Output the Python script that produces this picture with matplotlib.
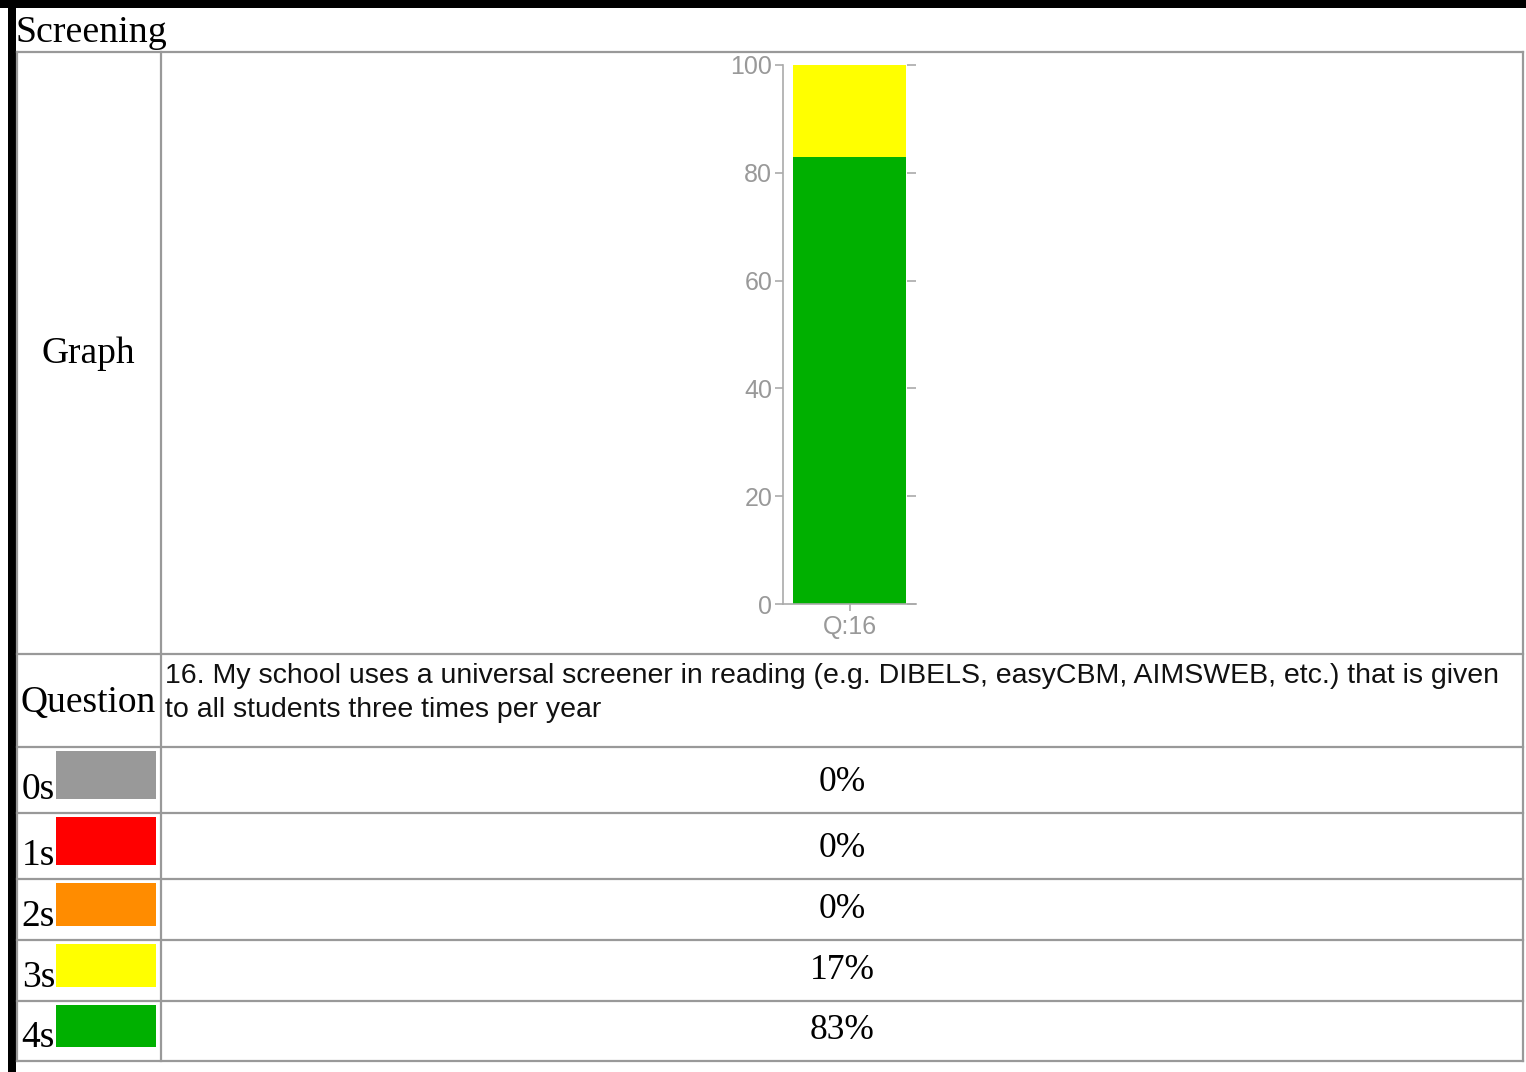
import matplotlib
matplotlib.use("Agg")
import matplotlib.pyplot as plt
from matplotlib.patches import Rectangle

# ---- data ----
title = "Screening"
question_lines = ["16. My school uses a universal screener in reading (e.g. DIBELS, easyCBM, AIMSWEB, etc.) that is given",
                  "to all students three times per year"]
qlabel = "Q:16"
levels = ["0s", "1s", "2s", "3s", "4s"]
colors = ["#999999", "#ff0000", "#ff8c00", "#ffff00", "#00b000"]
percent = [0, 0, 0, 17, 83]
yticks = [0, 20, 40, 60, 80, 100]

SERIF = "Liberation Serif"
SANS = "Liberation Sans"

W, H = 1526, 1072
fig = plt.figure(figsize=(W / 100, H / 100), dpi=100)

# background axes in pixel coords for the table
bg = fig.add_axes([0, 0, 1, 1])
bg.set_xlim(0, W)
bg.set_ylim(H, 0)
bg.axis("off")

# black frame top + left
bg.add_patch(Rectangle((0, 0), W, 8, color="black", lw=0))
bg.add_patch(Rectangle((8, 0), 8, H, color="black", lw=0))

line_c = "#999999"
rows = [52, 654, 747, 813, 879, 940, 1001, 1061]
x0, xm, x1 = 17, 161, 1523
for y in rows:
    bg.plot([x0, x1], [y, y], color=line_c, lw=1.6, solid_capstyle="projecting")
for x in (x0, xm, x1):
    bg.plot([x, x], [rows[0], rows[-1]], color=line_c, lw=1.6, solid_capstyle="projecting")

bg.text(16, 42, title, family=SERIF, fontsize=27.3, va="baseline", ha="left")
bg.text(88.5, 363, "Graph", family=SERIF, fontsize=27, va="baseline", ha="center")
bg.text(88.5, 712, "Question", family=SERIF, fontsize=27, va="baseline", ha="center")
for i, ln in enumerate(question_lines):
    bg.text(165, 683 + 34 * i, ln, family=SANS, fontsize=20.5, va="baseline",
            ha="left", color="#111111")

# legend rows + percentages
for i, (lab, c, p) in enumerate(zip(levels, colors, percent)):
    top, bot = rows[i + 2], rows[i + 3]
    bg.add_patch(Rectangle((56, top + 4), 100, (bot - 14) - (top + 4), color=c, lw=0))
    bg.text(55, bot - 14, lab, family=SERIF, fontsize=27, va="baseline", ha="right")
    bg.text(842, bot - 22, "%d%%" % p, family=SERIF, fontsize=25.5, va="baseline", ha="center")

# ---- stacked bar chart ----
ax = fig.add_axes([783 / W, 1 - 604 / H, 133 / W, 539 / H])
b = 0
for c, p in zip(colors[::-1], percent[::-1]):
    ax.bar(0, p, width=0.85, bottom=b, color=c, lw=0)
    b += p
ax.set_xlim(-0.5, 0.5)
ax.set_ylim(0, 100)
ax.set_yticks(yticks)
ax.set_xticks([0])
ax.set_xticklabels([qlabel])
for s in ("top", "right"):
    ax.spines[s].set_visible(False)
for s in ("left", "bottom"):
    ax.spines[s].set_color("#aaaaaa")
    ax.spines[s].set_linewidth(1.2)
ax.tick_params(axis="y", length=5.8, width=1.2, color="#aaaaaa", labelcolor="#999999",
               labelsize=18, pad=2)
ax.tick_params(axis="x", length=5, width=1.2, color="#aaaaaa", labelcolor="#999999",
               labelsize=18, pad=3)
for t in ax.get_xticklabels() + ax.get_yticklabels():
    t.set_family(SANS)

ax2 = ax.twinx()
ax2.set_ylim(0, 100)
ax2.set_yticks(yticks)
for s in ax2.spines.values():
    s.set_visible(False)
ax2.tick_params(axis="y", direction="in", length=6.5, width=1.2, color="#aaaaaa",
                labelright=False)

fig.savefig("out.png", dpi=100)
